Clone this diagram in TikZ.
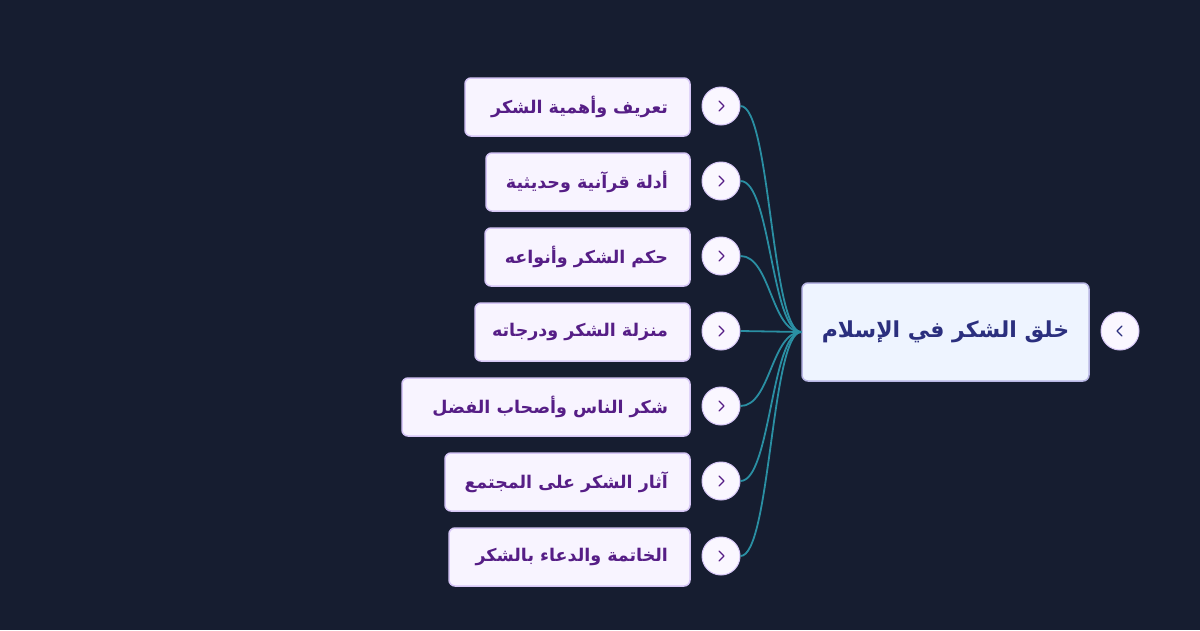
\documentclass[tikz,border=0pt]{standalone}
\usepackage{fontspec}
\TeXXeTstate=1
\newfontfamily\arabicfont[Script=Arabic]{DejaVu Sans}
\usetikzlibrary{calc}
\definecolor{bg}{HTML}{161D30}
\definecolor{rootfill}{HTML}{EEF4FF}
\definecolor{rootline}{HTML}{B8B6E4}
\definecolor{roottext}{HTML}{2B2F7E}
\definecolor{kidfill}{HTML}{F8F4FF}
\definecolor{kidline}{HTML}{D6C6F6}
\definecolor{kidtext}{HTML}{561E86}
\definecolor{circfill}{HTML}{FAF7FF}
\definecolor{conncol}{HTML}{2A8FA3}
\tikzset{
  rootbox/.style={draw=rootline, fill=rootfill, line width=1.5pt, rounded corners=6pt,
    minimum width=287pt, minimum height=98pt, inner sep=0pt,
    font=\arabicfont\bfseries\fontsize{22}{26}\selectfont, text=roottext},
  kidbox/.style={draw=kidline, fill=kidfill, line width=1.5pt, rounded corners=6pt,
    minimum height=58pt, inner xsep=22pt, inner ysep=0pt,
    font=\arabicfont\bfseries\fontsize{17.5}{21}\selectfont, text=kidtext},
  togglecirc/.style={circle, draw=kidline, fill=circfill, line width=1pt, minimum size=38pt, inner sep=0pt},
  kidchev/.style={draw=kidtext, line width=1.3pt, line cap=round, line join=round},
  rootchev/.style={draw=roottext, line width=1.3pt, line cap=round, line join=round},
  conn/.style={draw=conncol, line width=1.8pt},
}
\begin{document}
\begin{tikzpicture}[x=1pt,y=-1pt]
\fill[bg] (0,0) rectangle (1200,630);
\useasboundingbox (0,0) rectangle (1200,630);

% root
\node[rootbox] (root) at (945.5,332) {\beginR خلق الشكر في الإسلام\endR};
\node[togglecirc] (rc) at (1120,331) {};
\draw[rootchev] ($(rc)+(2,-5)$) -- ($(rc)+(-3,0)$) -- ($(rc)+(2,5)$);

% children boxes
\node[kidbox] (k1) at (577.5,107) {\makebox[181pt][r]{\beginR تعريف وأهمية الشكر\endR}};
\node[kidbox] (k2) at (588,182) {\makebox[160pt][r]{\beginR أدلة قرآنية وحديثية\endR}};
\node[kidbox] (k3) at (587.5,257) {\makebox[161pt][r]{\beginR حكم الشكر وأنواعه\endR}};
\node[kidbox] (k4) at (582.5,332) {\makebox[171pt][r]{\beginR منزلة الشكر ودرجاته\endR}};
\node[kidbox] (k5) at (546,407) {\makebox[244pt][r]{\beginR شكر الناس وأصحاب الفضل\endR}};
\node[kidbox] (k6) at (567.5,482) {\makebox[201pt][r]{\beginR آثار الشكر على المجتمع\endR}};
\node[kidbox] (k7) at (569.5,557) {\makebox[197pt][r]{\beginR الخاتمة والدعاء بالشكر\endR}};

% toggles
\foreach \i/\y in {1/106,2/181,3/256,4/331,5/406,6/481,7/556}{
  \node[togglecirc] (t\i) at (721,\y) {};
  \draw[kidchev] ($(t\i)+(-2,-5)$) -- ($(t\i)+(3,0)$) -- ($(t\i)+(-2,5)$);
}

% connectors
\foreach \i in {1,...,7}{
  \draw[conn] (t\i.east) .. controls ($(t\i.east)+(30,0)$) and ($(root.west)+(-30,0)$) .. (root.west);
}
\end{tikzpicture}
\end{document}
